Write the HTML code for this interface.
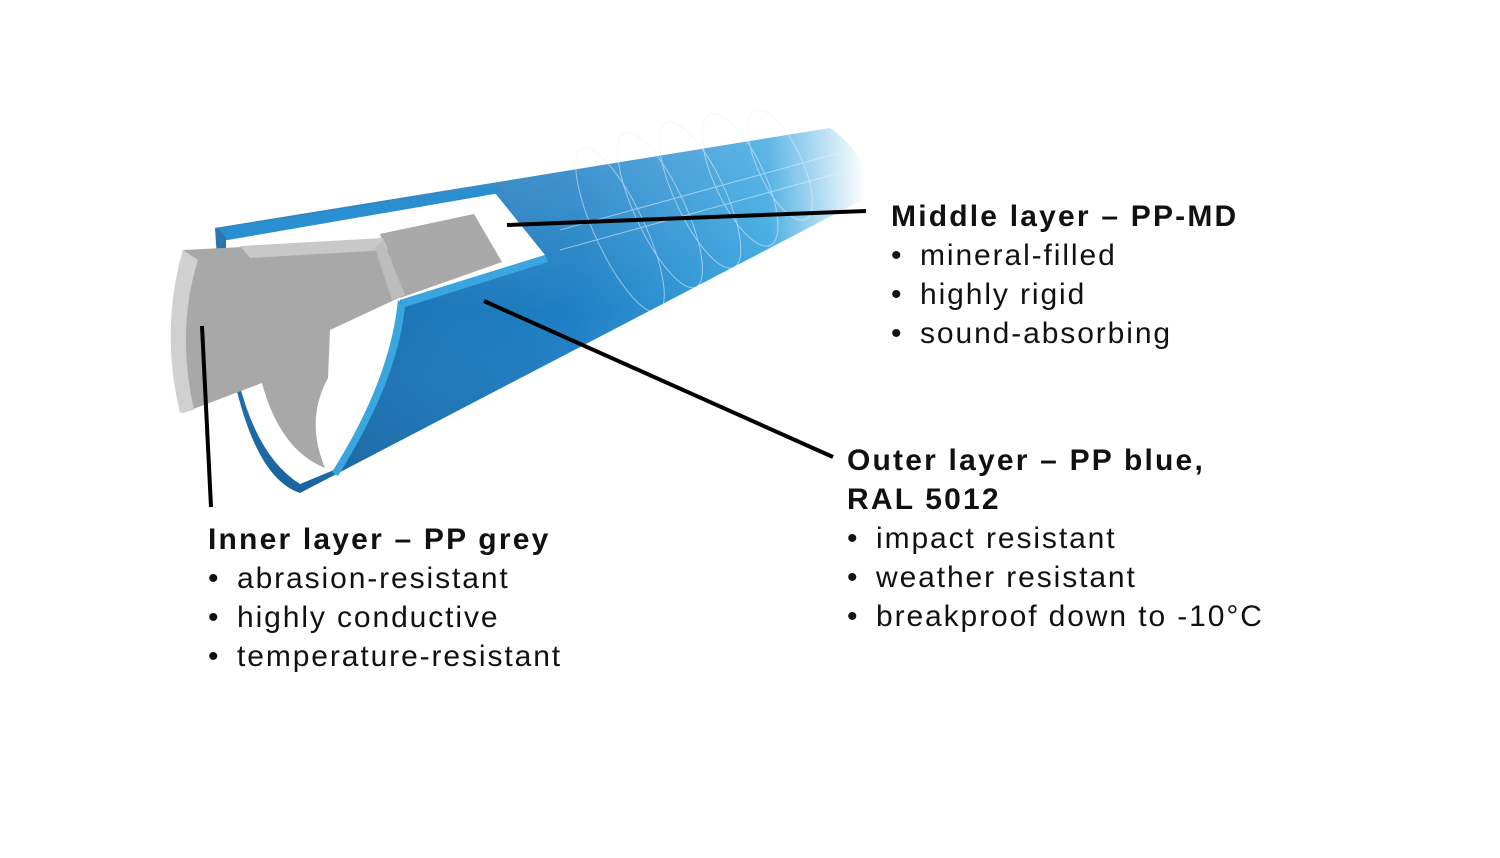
<!DOCTYPE html>
<html><head><meta charset="utf-8"><style>
html,body{margin:0;padding:0;background:#fff;}
body{width:1500px;height:858px;position:relative;overflow:hidden;font-family:"Liberation Sans",sans-serif;color:#111;}
.t{position:absolute;font-size:30px;line-height:39px;white-space:nowrap;letter-spacing:1.9px;}
.t b{font-weight:bold;letter-spacing:2.2px;}
.t i{font-style:normal;display:inline-block;width:29px;}
</style></head><body>
<svg width="1500" height="858" style="position:absolute;left:0;top:0">
<defs>
<linearGradient id="bl" x1="0" y1="0" x2="1" y2="0">
<stop offset="0" stop-color="#1a6aa8"/><stop offset="0.55" stop-color="#1f7fc4"/><stop offset="0.85" stop-color="#3aa6e0"/><stop offset="1" stop-color="#ffffff"/>
</linearGradient>
<linearGradient id="bv" x1="0" y1="0" x2="0" y2="1">
<stop offset="0" stop-color="#ffffff" stop-opacity="0.2"/><stop offset="0.5" stop-color="#ffffff" stop-opacity="0"/><stop offset="1" stop-color="#000" stop-opacity="0.1"/>
</linearGradient>
</defs>
<path d="M215,228 L830,128 Q875,160 862,200 L300,493 Q230,470 215,228 Z" fill="url(#bl)"/>
<path d="M215,228 L830,128 Q875,160 862,200 L300,493 Q230,470 215,228 Z" fill="url(#bv)"/>
<g stroke="#e8f2fa" stroke-width="1" fill="none" opacity="0.55">
<ellipse cx="620" cy="230" rx="25" ry="90" transform="rotate(-25 620 230)"/>
<ellipse cx="660" cy="210" rx="25" ry="85" transform="rotate(-25 660 210)"/>
<ellipse cx="700" cy="195" rx="25" ry="80" transform="rotate(-25 700 195)"/>
<ellipse cx="740" cy="180" rx="25" ry="72" transform="rotate(-25 740 180)"/>
<ellipse cx="780" cy="165" rx="22" ry="60" transform="rotate(-25 780 165)"/>
<line x1="560" y1="230" x2="850" y2="150"/><line x1="560" y1="250" x2="850" y2="170"/>
</g>
<!-- white middle layer -->
<path d="M226,240 L495,193 L545,255 L400,300 Q392,380 334,470 L300,484 Q238,445 226,300 Z" fill="#fff"/>
<path d="M400,300 L545,255 L548,262 L405,307 Z" fill="#3aa6e0"/>
<path d="M398,300 Q390,380 332,472 L338,476 Q398,380 405,306 Z" fill="#3aa6e0"/>
<path d="M218,228 L495,185 L500,193 L228,240 Z" fill="#2a8fd0"/>
<!-- grey back part -->
<path d="M380,234 L474,214 L502,262 L400,298 Z" fill="#a9a9a9"/>
<!-- grey inner -->
<path d="M183,250 L383,240 L405,295 L330,330 L328,378 Q305,420 325,468 Q280,450 262,383 L183,413 Q160,330 183,250 Z" fill="#a8a8a8"/>
<path d="M240,246 L383,238 L388,250 L250,258 Z" fill="#c8c8c8"/>
<path d="M183,250 Q160,330 180,413 L194,410 Q176,330 198,260 Z" fill="#d0d0d0"/>
<path d="M383,240 L405,295 L392,300 L375,248 Z" fill="#bdbdbd"/>
<!-- leader lines -->
<g stroke="#000" stroke-width="4">
<line x1="507" y1="225" x2="866" y2="211"/>
<line x1="484" y1="301" x2="833" y2="457"/>
<line x1="202" y1="326" x2="211" y2="507"/>
</g>
</svg>
<div class="t" style="left:891px;top:197px"><b>Middle layer – PP-MD</b><br><i>•</i>mineral-filled<br><i>•</i>highly rigid<br><i>•</i>sound-absorbing</div>
<div class="t" style="left:847px;top:441px"><b>Outer layer – PP blue,<br>RAL 5012</b><br><i>•</i>impact resistant<br><i>•</i>weather resistant<br><i>•</i>breakproof down to -10°C</div>
<div class="t" style="left:208px;top:520px"><b>Inner layer – PP grey</b><br><i>•</i>abrasion-resistant<br><i>•</i>highly conductive<br><i>•</i>temperature-resistant</div>
</body></html>
